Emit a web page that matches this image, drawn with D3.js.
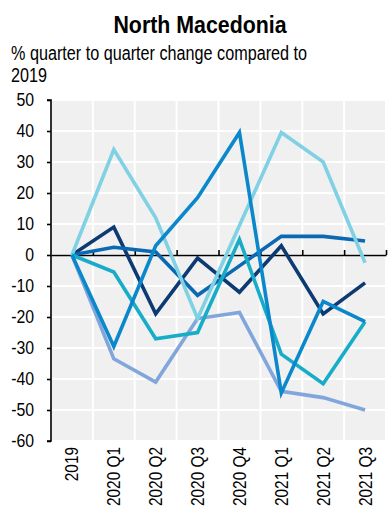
<!DOCTYPE html>
<html>
<head>
<meta charset="utf-8">
<script src="https://cdn.jsdelivr.net/npm/d3@7"></script>
<style>
  html, body { margin: 0; padding: 0; background: #ffffff; }
  svg { display: block; }
  text { font-family: "Liberation Sans", Arial, sans-serif; fill: #000; }
</style>
</head>
<body>
<svg id="chart" width="388" height="511"></svg>
<script>
// Quarters on the x axis
const categories = ["2019", "2020 Q1", "2020 Q2", "2020 Q3", "2020 Q4", "2021 Q1", "2021 Q2", "2021 Q3"];

// % change versus 2019, one array per line
const seriesNavy       = [0, 9, -19, -1, -12, 3, -19, -9];
const seriesMidBlue    = [0, 2.5, 1, -13, -3.5, 6, 6, 4.5];
const seriesBrightBlue = [0, -29.5, 3, 18.5, 39.5, -44.5, -15, -21.5];
const seriesLightCyan  = [0, 34, 12, -20.5, 9.5, 39.5, 30, -2.5];
const seriesTeal       = [0, -5.5, -27, -25, 5, -32, -41.5, -21.5];
const seriesPeriwinkle = [0, -33.5, -41, -20.5, -18.5, -44, -46, -50];

// y axis tick labels
const yTicks = [50, 40, 30, 20, 10, 0, -10, -20, -30, -40, -50, -60];

const titleText = "North Macedonia";
const subtitleLines = ["% quarter to quarter change compared to", "2019"];

// drawing order (bottom to top) and colours
const lines = [
  { values: seriesPeriwinkle, color: "#80a6dc" },
  { values: seriesNavy,       color: "#0c3a72" },
  { values: seriesMidBlue,    color: "#0a69b2" },
  { values: seriesLightCyan,  color: "#80d1e4" },
  { values: seriesTeal,       color: "#17adc8" },
  { values: seriesBrightBlue, color: "#0b88cb" }
];

const svg = d3.select("#chart");
const plot = { left: 51, right: 386, top: 100, bottom: 441 };

const x = d3.scaleBand().domain(categories).range([plot.left, plot.right]).padding(0);
const y = d3.scaleLinear().domain([-60, 50]).range([plot.bottom, plot.top]);

// Title and subtitle (narrow face imitated with a horizontal squeeze)
svg.append("text")
  .attr("transform", "translate(200,33) scale(0.89,1)")
  .attr("text-anchor", "middle")
  .style("font-size", "24px")
  .style("font-weight", "bold")
  .text(titleText);

subtitleLines.forEach((t, i) => {
  svg.append("text")
    .attr("transform", `translate(11,${60 + i * 22}) scale(0.81,1)`)
    .style("font-size", "20px")
    .text(t);
});

// Plot background
svg.append("rect")
  .attr("x", plot.left).attr("y", plot.top)
  .attr("width", plot.right - plot.left).attr("height", plot.bottom - plot.top)
  .attr("fill", "#f0f0f0");

// White gridlines
const grid = svg.append("g").attr("stroke", "#ffffff").attr("stroke-width", 2);
grid.selectAll("line.h").data(yTicks).join("line")
  .attr("class", "h")
  .attr("x1", plot.left).attr("x2", plot.right)
  .attr("y1", d => y(d)).attr("y2", d => y(d));
const boundaries = categories.slice(1).map(c => x(c)).concat([x.range()[1]]);
grid.selectAll("line.v").data(boundaries).join("line")
  .attr("class", "v")
  .attr("x1", d => d).attr("x2", d => d)
  .attr("y1", plot.top).attr("y2", plot.bottom);

// Y axis
const yAxis = d3.axisLeft(y).tickValues(yTicks).tickSize(4).tickFormat("");
const yg = svg.append("g").attr("transform", `translate(${plot.left},0)`).call(yAxis);
yg.select(".domain").attr("stroke", "#000").attr("stroke-width", 1.6).attr("d", `M-4,${y(50)}H0V${y(-60)}H-4`);
yg.selectAll(".tick line").attr("stroke", "#000").attr("stroke-width", 1.6);

svg.append("g").selectAll("text").data(yTicks).join("text")
  .attr("transform", d => `translate(34,${y(d)}) scale(0.88,1)`)
  .attr("text-anchor", "end")
  .attr("dy", "0.36em")
  .style("font-size", "18px")
  .text(d => d);

// X axis line at zero with upward ticks at the category boundaries
const xAxis = d3.axisTop(d3.scaleLinear().domain([plot.left, plot.right]).range([plot.left, plot.right]))
  .tickValues(boundaries).tickSize(5).tickFormat("").tickSizeOuter(0);
const xg = svg.append("g").attr("transform", `translate(0,${y(0)})`).call(xAxis);
xg.select(".domain").attr("stroke", "#000").attr("stroke-width", 1.6);
xg.selectAll(".tick line").attr("stroke", "#000").attr("stroke-width", 1.6);

// Rotated category labels
svg.append("g").selectAll("text").data(categories).join("text")
  .attr("transform", d => `translate(${x(d) + x.bandwidth() / 2 + 6.5},447) rotate(-90) scale(0.81,1)`)
  .attr("text-anchor", "end")
  .style("font-size", "19px")
  .text(d => d);

// Lines
const lineGen = d3.line()
  .x((d, i) => x(categories[i]) + x.bandwidth() / 2)
  .y(d => y(d));

svg.append("g").selectAll("path").data(lines).join("path")
  .attr("d", d => lineGen(d.values))
  .attr("fill", "none")
  .attr("stroke", d => d.color)
  .attr("stroke-width", 3.6)
  .attr("stroke-linejoin", "miter")
  .attr("stroke-miterlimit", 6);
</script>
</body>
</html>
